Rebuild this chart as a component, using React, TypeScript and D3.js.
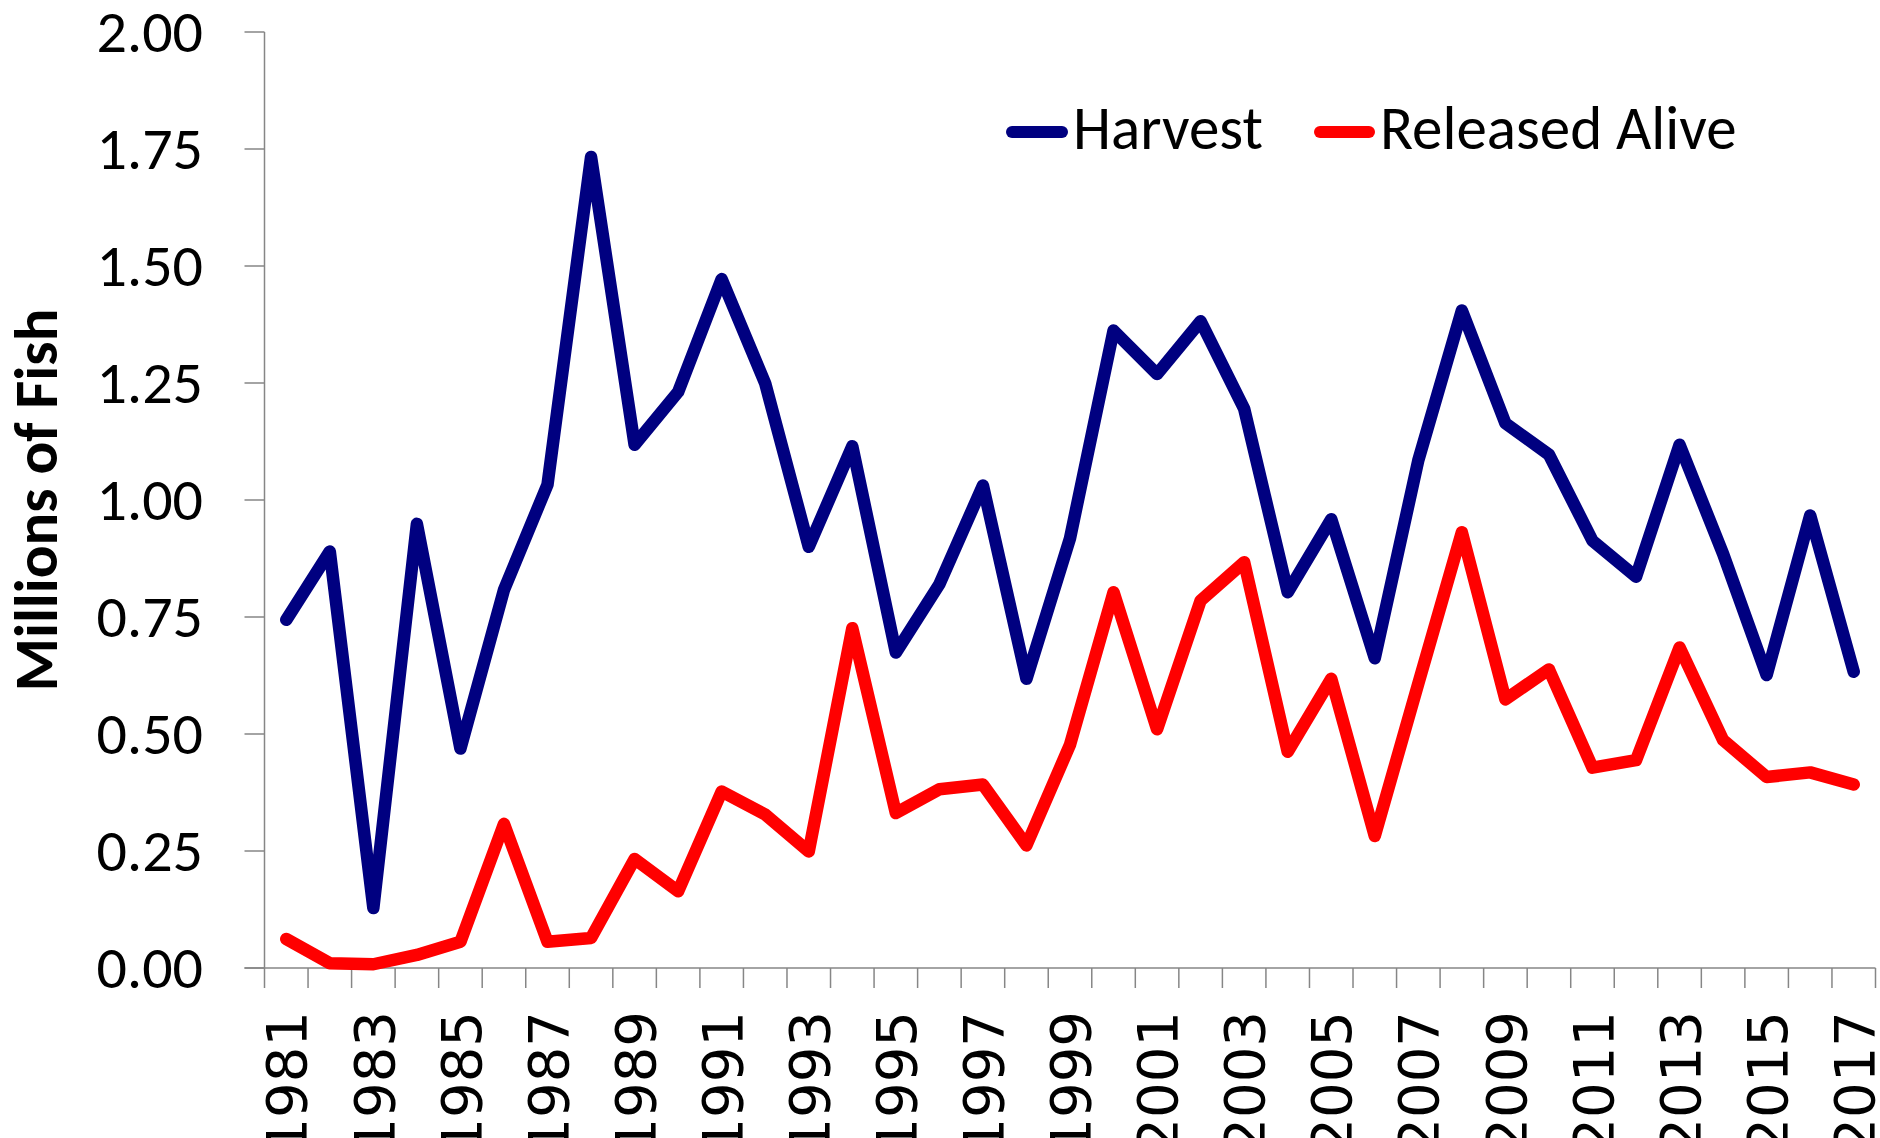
import React, { useEffect } from "react";
import * as d3 from "d3";

const years: number[] = d3.range(1981, 2018);
const harvest: number[] = [
  0.744, 0.89, 0.128, 0.949, 0.469, 0.808, 1.033, 1.733, 1.118, 1.231, 1.472, 1.249,
  0.9, 1.115, 0.674, 0.82, 1.031, 0.618, 0.918, 1.362, 1.269, 1.382, 1.195, 0.803,
  0.959, 0.662, 1.085, 1.405, 1.164, 1.097, 0.913, 0.836, 1.118, 0.885, 0.626, 0.967, 0.633,
];
const released: number[] = [
  0.062, 0.01, 0.008, 0.028, 0.056, 0.308, 0.056, 0.064, 0.233, 0.164, 0.377, 0.328,
  0.249, 0.726, 0.331, 0.382, 0.392, 0.262, 0.477, 0.803, 0.51, 0.785, 0.867, 0.462,
  0.618, 0.282, 0.608, 0.931, 0.574, 0.638, 0.428, 0.444, 0.685, 0.487, 0.408, 0.418, 0.392,
];
const yTicks: number[] = [0, 0.25, 0.5, 0.75, 1.0, 1.25, 1.5, 1.75, 2.0];
const seriesNames: string[] = ["Harvest", "Released Alive"];
const seriesColors: string[] = ["#000080", "#FF0000"];

const W = 1880;
const H = 1138;
const left = 264.5;
const right = 1875.5;
const top = 32;
const bottom = 968;

export default function App() {
  useEffect(() => {
    document.body.style.margin = "0";
  }, []);

  const x = d3
    .scaleBand<number>()
    .domain(years)
    .range([left, right])
    .paddingInner(0)
    .paddingOuter(0);
  const cx = (yr: number) => (x(yr) as number) + x.bandwidth() / 2;
  const y = d3.scaleLinear().domain([0, 2]).range([bottom, top]);

  const line = d3
    .line<number>()
    .x((_, i) => cx(years[i]))
    .y((d) => y(d));

  const axisColor = "#868686";
  const labelFont = "Carlito, 'Open Sans', sans-serif";
  const series = [harvest, released];
  const boundaries = d3.range(0, years.length + 1).map((i) => left + i * x.bandwidth());

  const legend = [
    { x0: 1006, x1: 1068, tx: 1073 },
    { x0: 1314, x1: 1375, tx: 1380 },
  ];

  return (
    <svg width={W} height={H} style={{ display: "block" }} xmlns="http://www.w3.org/2000/svg">
      <rect x={0} y={0} width={W} height={H} fill="#ffffff" />
      {/* Y axis */}
      <line x1={left} x2={left} y1={top} y2={bottom} stroke={axisColor} strokeWidth={1.5} />
      {yTicks.map((t) => (
        <g key={t}>
          <line x1={left - 20} x2={left} y1={y(t)} y2={y(t)} stroke={axisColor} strokeWidth={1.5} />
          <text
            x={203}
            y={y(t)}
            dy="0.33em"
            textAnchor="end"
            fontFamily={labelFont}
            fontSize={60}
            fill="#000"
          >
            {t.toFixed(2)}
          </text>
        </g>
      ))}
      {/* X axis */}
      <line x1={left - 20} x2={right} y1={bottom} y2={bottom} stroke={axisColor} strokeWidth={1.5} />
      {boundaries.map((bx, i) => (
        <line key={i} x1={bx} x2={bx} y1={bottom} y2={bottom + 20} stroke={axisColor} strokeWidth={1.5} />
      ))}
      {years
        .filter((_, i) => i % 2 === 0)
        .map((yr) => (
          <text
            key={yr}
            transform={`translate(${cx(yr)},1011) rotate(-90)`}
            dy="0.36em"
            textAnchor="end"
            fontFamily="'DejaVu Sans', sans-serif"
            fontSize={56}
            fill="#000"
          >
            {yr}
          </text>
        ))}
      {/* Y title */}
      <text
        transform={`translate(57,${(top + bottom) / 2}) rotate(-90)`}
        textAnchor="middle"
        fontFamily={labelFont}
        fontWeight="bold"
        fontSize={61}
        fill="#000"
      >
        Millions of Fish
      </text>
      {/* Series */}
      {series.map((s, i) => (
        <path
          key={i}
          d={line(s) || ""}
          fill="none"
          stroke={seriesColors[i]}
          strokeWidth={12.5}
          strokeLinejoin="round"
          strokeLinecap="round"
        />
      ))}
      {/* Legend */}
      {legend.map((l, i) => (
        <g key={i}>
          <line
            x1={l.x0 + 6}
            x2={l.x1 - 6}
            y1={132}
            y2={132}
            stroke={seriesColors[i]}
            strokeWidth={12}
            strokeLinecap="round"
          />
          <text x={l.tx} y={149} fontFamily={labelFont} fontSize={61} fill="#000">
            {seriesNames[i]}
          </text>
        </g>
      ))}
    </svg>
  );
}
